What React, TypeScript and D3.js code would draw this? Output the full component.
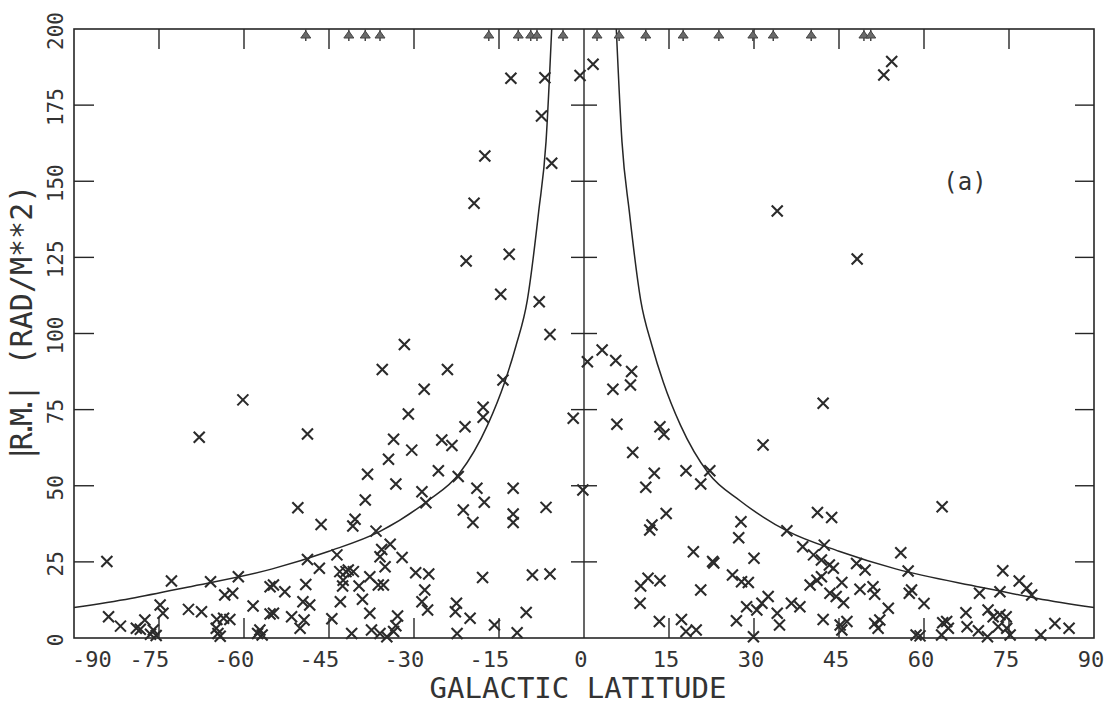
import React from "react";
import * as d3 from "d3";

// Galactic latitude (deg) and |RM| (rad/m^2) of each plotted source
const LAT: number[] = [
  -84.2, -83.9, -81.8, -79.0, -78.3, -77.5, -76.0, -76.5, -75.5, -74.8, -74.3, -72.8,
  -69.8, -67.5, -67.9, -65.9, -64.9, -64.8, -64.6, -64.2, -63.6, -62.5, -63.4, -62.0,
  -61.0, -60.2, -58.4, -57.2, -56.8, -57.6, -55.4, -55.4, -54.8, -54.8, -52.8, -51.6,
  -50.5, -50.1, -49.6, -49.4, -49.1, -48.8, -48.8, -48.4, -46.7, -46.4, -44.5, -43.6,
  -43.1, -42.5, -42.0, -41.6, -40.7, -43.0, -42.6, -41.0, -40.8, -40.4, -39.7, -39.1,
  -38.6, -38.2, -37.8, -37.8, -37.5, -36.7, -36.3, -36.0, -36.0, -35.7, -35.6, -35.4,
  -35.1, -34.8, -34.5, -34.2, -33.6, -33.6, -33.2, -33.2, -32.9, -32.1, -31.7, -31.0,
  -30.4, -29.7, -28.6, -28.6, -28.2, -28.1, -27.9, -27.6, -27.4, -25.7, -25.1, -24.1,
  -23.3, -22.7, -22.5, -22.4, -22.2, -21.3, -21.0, -20.8, -20.1, -19.6, -19.4, -18.9,
  -17.9, -17.8, -17.8, -17.6, -17.5, -15.8, -14.7, -14.3, -13.2, -12.9, -12.5, -12.5,
  -12.5, -11.8, -10.2, -9.1, -7.9, -7.5, -6.9, -6.7, -6.0, -6.0, -5.7, -1.9, -0.7, -0.2,
  0.6, 1.6, 3.2, 5.6, 5.1, 5.8, 8.4, 8.2, 8.6, 9.9, 10.0, 10.9, 11.3, 11.6, 12.0, 12.4,
  13.3, 13.4, 13.4, 14.1, 14.5, 17.2, 18.0, 18.0, 19.3, 19.8, 20.6, 20.6, 22.2, 22.7,
  22.9, 26.2, 26.9, 27.3, 27.7, 27.8, 28.7, 29.0, 30.0, 30.5, 31.4, 31.6, 32.5, 29.9,
  34.1, 34.5, 34.1, 35.8, 36.6, 38.1, 38.6, 39.9, 40.5, 41.1, 41.2, 41.9, 41.9, 42.2,
  42.2, 42.4, 43.3, 43.4, 43.7, 44.0, 44.5, 45.2, 45.5, 45.5, 45.8, 46.4, 48.1, 48.2,
  48.7, 49.6, 51.0, 51.3, 51.3, 51.9, 52.2, 52.9, 53.7, 54.3, 55.9, 57.2, 57.4, 57.8,
  58.6, 59.3, 60.0, 63.1, 63.2, 63.3, 64.0, 64.3, 67.4, 67.6, 69.6, 69.8, 71.2, 71.3,
  72.2, 73.4, 73.4, 73.1, 73.9, 74.5, 74.6, 75.2, 76.8, 78.1, 79.0, 80.6, 83.1, 85.6,
];
const RM: number[] = [
  25.1, 7.0, 3.9, 3.2, 2.9, 5.9, 2.6, 1.2, 0.8, 10.8, 8.1, 18.7,
  9.4, 8.6, 65.9, 18.5, 3.2, 6.1, 1.5, 0.6, 6.5, 6.1, 14.1, 14.7,
  20.1, 78.2, 10.5, 2.6, 1.0, 1.5, 16.8, 7.9, 17.4, 8.1, 15.2, 7.0,
  42.8, 3.2, 11.9, 5.9, 17.6, 67.0, 25.8, 10.8, 22.9, 37.3, 6.3, 27.3,
  21.8, 19.0, 21.8, 22.3, 21.8, 11.9, 17.1, 1.5, 36.8, 39.0, 17.1, 12.7,
  45.3, 53.8, 20.1, 8.1, 2.6, 35.1, 17.4, 26.7, 1.5, 29.1, 88.2, 17.4,
  23.4, 0.4, 58.7, 30.8, 65.3, 2.1, 4.0, 50.6, 7.2, 26.4, 96.4, 73.6,
  61.7, 21.4, 48.0, 11.9, 81.7, 15.8, 44.4, 9.2, 21.0, 54.9, 65.0, 88.2,
  63.2, 8.6, 11.4, 1.5, 53.0, 42.0, 69.4, 123.8, 6.5, 37.9, 142.8, 49.2,
  19.9, 75.8, 72.5, 44.6, 158.3, 4.3, 112.9, 84.7, 126.0, 183.8, 49.2, 40.7,
  37.9, 1.7, 8.4, 20.7, 110.4, 171.4, 184.0, 42.9, 99.7, 21.0, 155.9, 72.2, 184.7, 48.6,
  90.7, 188.4, 94.6, 91.1, 81.7, 70.2, 87.5, 83.1, 60.9, 11.4, 17.1, 49.5, 19.6, 35.5, 37.1, 54.1,
  5.4, 69.4, 18.8, 66.9, 40.9, 6.1, 54.9, 2.1, 28.3, 2.6, 50.6, 15.8, 54.9, 25.1,
  24.6, 20.7, 5.7, 32.9, 38.2, 18.5, 10.3, 18.2, 26.2, 9.2, 11.4, 63.4, 13.6, 0.4,
  8.1, 4.3, 140.2, 35.2, 11.4, 10.3, 30.0, 17.4, 27.3, 19.0, 41.2, 20.1, 25.6, 77.1,
  6.1, 30.5, 24.0, 14.7, 39.6, 22.9, 13.6, 4.3, 18.2, 2.6, 11.6, 5.4, 24.5, 124.5,
  16.0, 22.3, 16.8, 14.4, 4.8, 3.2, 5.9, 184.9, 9.8, 189.3, 28.0, 22.0, 14.7, 15.8,
  1.0, 0.7, 11.3, 1.0, 43.1, 5.0, 5.4, 3.2, 8.3, 3.7, 2.4, 14.7, 0.4, 9.2,
  7.0, 7.6, 15.2, 3.7, 22.1, 7.0, 3.2, 1.0, 18.7, 16.3, 14.1, 1.0, 4.8, 3.2,
];
// Latitudes of sources with |RM| above 200 (drawn as arrows at the top)
const OFF_SCALE_LAT: number[] = [
  -49.1, -41.5, -38.6, -36.0, -16.8, -11.6, -9.4, -8.3, -3.7, 2.3, 6.2, 10.9,
  17.5, 23.8, 29.8, 33.4, 40.1, 49.4, 50.6,
];
// Envelope curve (|b|, |RM|), mirrored about b = 0
const CURVE_B: number[] = [5.7, 6.7, 8, 10, 12, 14, 17, 22, 27.6, 36, 45, 55, 70, 80, 90];
const CURVE_RM: number[] = [200, 163, 140, 111, 96, 84, 70, 54, 45, 35, 28.5, 22.7, 16.7, 13, 10];

const X_TICKS: number[] = [-90, -75, -60, -45, -30, -15, 0, 15, 30, 45, 60, 75, 90];
const Y_TICKS: number[] = [0, 25, 50, 75, 100, 125, 150, 175, 200];
const X_TITLE = "GALACTIC LATITUDE";
const Y_TITLE_A = "|R.M.|";
const Y_TITLE_B = "(RAD/M**2)";
const PANEL = "(a)";

const FONT = "'DejaVu Sans Mono', 'Liberation Mono', monospace";
const INK = "#262626";

export default function App() {
  const W = 1108;
  const H = 707;
  const x = d3.scaleLinear().domain([-90, 90]).range([74, 1094]);
  const y = d3.scaleLinear().domain([0, 200]).range([638, 29]);
  const line = d3
    .line<[number, number]>()
    .x((d) => x(d[0]))
    .y((d) => y(d[1]))
    .curve(d3.curveMonotoneX);
  const rightCurve: [number, number][] = CURVE_B.map((b, i) => [b, CURVE_RM[i]]);
  const leftCurve: [number, number][] = CURVE_B.map((b, i) => [-b, CURVE_RM[i]] as [number, number]).reverse();

  const adv = 0.602 * 22;
  const x0 = x.range()[0];
  const [y0, y1] = [y(0), y(200)];
  const innerX = X_TICKS.filter((t) => t !== -90 && t !== 90 && t !== 0);
  const innerY = Y_TICKS.filter((t) => t !== 0 && t !== 200);

  return (
    <svg
      width={W}
      height={H}
      style={{ position: "absolute", left: 0, top: 0, background: "#fff" }}
      fontFamily={FONT}
    >
      <rect width={W} height={H} fill="#fff" />
      {/* frame */}
      <rect x={x(-90)} y={y1} width={x(90) - x(-90)} height={y0 - y1} fill="none" stroke={INK} strokeWidth={1.6} />
      {/* zero line */}
      <line x1={x(0)} x2={x(0)} y1={y0} y2={y1} stroke={INK} strokeWidth={1.4} />
      {innerY.map((t) => (
        <g key={"yt" + t} stroke={INK} strokeWidth={1.4}>
          <line x1={x(-90)} x2={x(-90) + 20} y1={y(t)} y2={y(t)} />
          <line x1={x(90)} x2={x(90) - 19} y1={y(t)} y2={y(t)} />
          <line x1={x(0) - 13} x2={x(0) + 13} y1={y(t)} y2={y(t)} />
        </g>
      ))}
      {innerX.map((t) => (
        <g key={"xt" + t} stroke={INK} strokeWidth={1.4}>
          <line x1={x(t)} x2={x(t)} y1={y0} y2={y0 - 20} />
          <line x1={x(t)} x2={x(t)} y1={y1} y2={y1 + 20} />
        </g>
      ))}
      {/* x tick labels */}
      {X_TICKS.map((t) => {
        const s = String(t);
        const digits = String(Math.abs(t)).length;
        let end = x(t) - 3 + (digits * adv) / 2;
        const start = end - s.length * adv;
        if (start < x0 - 2) end += x0 - 2 - start;
        return (
          <text key={"xl" + t} x={end} y={667} fontSize={22} textAnchor="end" fill="#333">
            {s}
          </text>
        );
      })}
      {/* y tick labels */}
      {Y_TICKS.map((t) => (
        <text
          key={"yl" + t}
          transform={`translate(63,${y(t) + 2}) rotate(-90)`}
          fontSize={21}
          textAnchor="middle"
          fill="#333"
        >
          {t}
        </text>
      ))}
      {/* titles */}
      <text x={578} y={698} fontSize={29} textAnchor="middle" fill="#333">
        {X_TITLE}
      </text>
      <text transform="translate(32,426) rotate(-90)" fontSize={30} textAnchor="middle" fill="#333" letterSpacing={-6}>
        {Y_TITLE_A}
      </text>
      <text transform="translate(32,275) rotate(-90)" fontSize={30} textAnchor="middle" fill="#333">
        {Y_TITLE_B}
      </text>
      <text x={965} y={190} fontSize={24} textAnchor="middle" fill="#333">
        {PANEL}
      </text>
      {/* envelope curves */}
      <path d={line(leftCurve) ?? ""} fill="none" stroke={INK} strokeWidth={1.5} />
      <path d={line(rightCurve) ?? ""} fill="none" stroke={INK} strokeWidth={1.5} />
      {/* off-scale arrows */}
      {OFF_SCALE_LAT.map((b, i) => {
        const cx = x(b);
        return (
          <g key={"a" + i}>
            <line x1={cx} x2={cx} y1={y1} y2={y1 + 12} stroke="#444" strokeWidth={1.5} />
            <path
              d={`M${cx - 5},${y1 + 9} L${cx},${y1 + 2} L${cx + 5},${y1 + 9} Z`}
              fill="#6a6a6a"
              stroke="#444"
              strokeWidth={1}
            />
          </g>
        );
      })}
      {/* data crosses */}
      {LAT.map((b, i) => {
        const cx = x(b);
        const cy = y(RM[i]);
        return (
          <path
            key={"p" + i}
            d={`M${cx - 5.5},${cy - 5.5}L${cx + 5.5},${cy + 5.5}M${cx - 5.5},${cy + 5.5}L${cx + 5.5},${cy - 5.5}`}
            stroke="#2b2b2b"
            strokeWidth={2.1}
            fill="none"
          />
        );
      })}
    </svg>
  );
}
